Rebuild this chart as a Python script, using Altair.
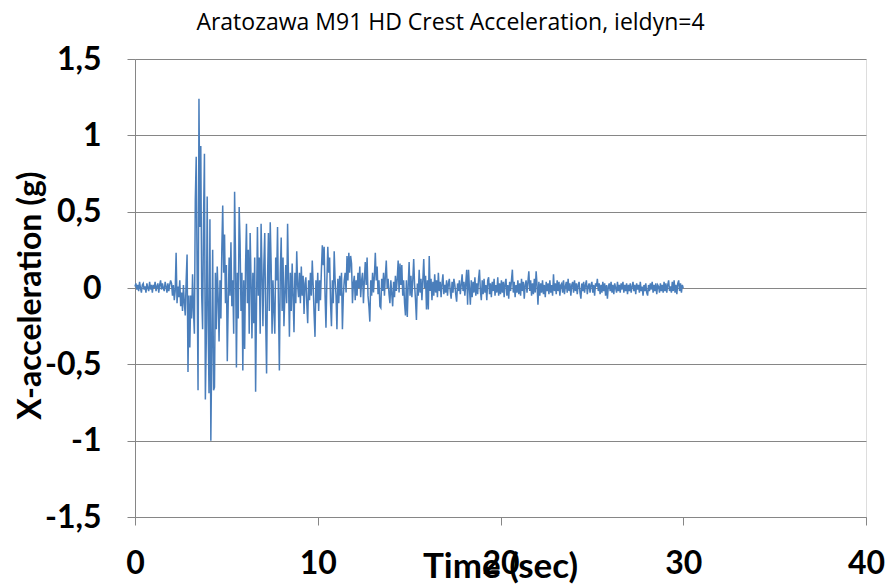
import altair as alt
import pandas as pd

# Sampling step of the record (seconds) and start time
DT = 0.05
T0 = 0.0

# X-acceleration (g), one row per second (20 samples each)
acc_00 = [0.01, 0.03, -0.01, 0.02, -0.02, 0.04, 0.00, -0.03, 0.02, 0.03, -0.01, 0.01, -0.03, 0.03, 0.00, -0.02, 0.04, -0.01, 0.02, -0.03]
acc_01 = [0.02, 0.00, 0.04, -0.02, 0.01, 0.03, -0.03, 0.02, 0.05, -0.01, 0.03, 0.00, -0.02, 0.04, 0.01, -0.03, 0.03, -0.02, 0.02, 0.05]
acc_02 = [0.03, -0.05, 0.02, -0.08, -0.02, 0.23, -0.10, 0.01, -0.06, 0.05, -0.12, -0.03, -0.15, 0.02, -0.10, -0.18, 0.05, 0.22, -0.55, -0.05]
acc_03 = [-0.39, -0.05, -0.20, 0.09, -0.15, -0.30, 0.58, 0.86, 0.10, -0.67, 1.24, 0.40, 0.93, -0.05, -0.27, 0.45, 0.88, -0.73, -0.35, 0.60]
acc_04 = [-0.20, -0.69, 0.45, -1.00, -0.40, 0.25, -0.67, -0.65, 0.10, -0.27, 0.14, -0.06, -0.35, 0.05, -0.20, 0.25, 0.54, 0.10, 0.35, -0.10]
acc_05 = [0.15, -0.48, -0.10, 0.20, -0.05, 0.30, -0.12, 0.05, -0.30, 0.63, 0.20, -0.52, 0.10, -0.20, 0.53, 0.30, -0.15, 0.10, -0.54, 0.05]
acc_06 = [-0.40, 0.15, 0.42, -0.10, 0.25, -0.30, 0.36, 0.05, -0.33, 0.10, -0.23, 0.20, -0.68, -0.10, 0.40, -0.05, 0.20, -0.30, 0.42, 0.10]
acc_07 = [-0.25, 0.15, 0.36, -0.20, -0.56, 0.05, 0.36, -0.15, 0.43, 0.15, -0.30, 0.05, -0.15, -0.30, 0.20, 0.05, 0.40, -0.10, -0.54, 0.10]
acc_08 = [0.33, -0.15, 0.20, -0.25, -0.05, 0.15, -0.10, 0.42, 0.05, -0.32, 0.10, -0.15, 0.16, -0.05, -0.29, 0.10, -0.10, 0.24, 0.02, -0.06]
acc_09 = [0.10, -0.10, 0.14, -0.05, 0.08, -0.17, 0.03, 0.07, -0.10, -0.23, 0.05, -0.08, 0.10, -0.05, 0.18, 0.02, -0.17, -0.32, 0.05, -0.10]
acc_10 = [0.10, -0.15, 0.05, -0.08, 0.12, 0.28, 0.15, 0.27, -0.05, -0.26, 0.05, 0.27, 0.10, 0.20, -0.10, -0.25, 0.05, -0.10, 0.24, 0.05]
acc_11 = [-0.05, -0.27, 0.06, -0.10, 0.08, -0.05, 0.10, -0.27, -0.05, 0.05, 0.10, -0.03, 0.21, 0.05, 0.23, 0.10, 0.21, 0.16, -0.10, 0.03]
acc_12 = [0.08, -0.08, 0.05, -0.05, 0.10, 0.00, 0.14, -0.06, 0.05, 0.10, -0.10, 0.05, 0.17, 0.02, 0.20, -0.05, -0.12, -0.22, 0.05, -0.05]
acc_13 = [0.10, -0.03, 0.08, 0.23, 0.05, 0.14, -0.04, 0.05, -0.12, -0.13, 0.06, -0.02, 0.10, -0.05, 0.08, 0.18, 0.00, 0.06, -0.04, -0.10]
acc_14 = [0.05, -0.04, -0.12, 0.04, -0.06, 0.08, -0.02, 0.06, 0.18, -0.03, 0.16, 0.02, 0.15, -0.05, 0.05, -0.10, -0.18, 0.05, -0.19, 0.02]
acc_15 = [0.17, -0.05, 0.08, -0.06, 0.05, 0.19, 0.02, -0.08, -0.21, 0.03, -0.05, 0.12, -0.03, 0.06, -0.08, 0.05, 0.19, 0.00, 0.08, -0.14]
acc_16 = [0.05, -0.14, 0.21, -0.02, 0.06, -0.08, 0.04, -0.05, 0.09, -0.03, 0.05, -0.06, 0.10, -0.02, 0.04, -0.06, 0.03, 0.09, -0.04, 0.02]
acc_17 = [-0.03, 0.05, -0.05, 0.03, 0.06, -0.02, -0.07, 0.04, -0.03, 0.06, 0.02, -0.04, -0.09, 0.03, -0.02, 0.05, -0.04, 0.02, 0.09, -0.02]
acc_18 = [0.04, -0.05, 0.03, 0.12, -0.11, 0.12, 0.00, -0.11, 0.05, -0.06, 0.04, -0.03, 0.07, -0.05, 0.03, -0.04, 0.06, 0.12, -0.02, -0.08]
acc_19 = [0.05, -0.04, 0.06, -0.03, 0.02, -0.08, 0.05, 0.07, -0.04, 0.03, -0.06, 0.04, -0.02, 0.06, -0.05, 0.02, -0.03, 0.07, -0.05, 0.03]
acc_20 = [-0.04, 0.05, -0.03, 0.04, -0.06, 0.03, 0.06, -0.05, 0.02, -0.07, 0.04, -0.02, 0.05, 0.12, -0.03, 0.04, -0.06, 0.02, -0.03, 0.05]
acc_21 = [-0.04, 0.03, -0.05, 0.06, -0.02, 0.04, -0.07, 0.02, 0.05, -0.03, 0.04, 0.11, -0.02, 0.05, -0.05, 0.03, -0.04, 0.06, -0.03, 0.11]
acc_22 = [0.02, -0.11, 0.04, -0.05, 0.03, -0.03, 0.05, -0.04, 0.02, -0.06, 0.04, -0.02, 0.03, -0.04, 0.05, -0.03, 0.02, -0.05, 0.09, -0.02]
acc_23 = [0.03, -0.04, 0.05, -0.02, 0.04, -0.05, 0.02, 0.03, -0.03, 0.05, -0.04, 0.01, 0.04, -0.03, 0.06, -0.02, 0.03, -0.05, 0.02, 0.04]
acc_24 = [-0.03, 0.05, -0.02, 0.03, -0.04, 0.02, 0.04, -0.03, -0.07, 0.03, -0.02, 0.04, -0.03, 0.02, 0.05, -0.04, 0.01, 0.03, -0.03, 0.02]
acc_25 = [0.04, -0.03, 0.02, -0.05, 0.03, 0.01, 0.06, -0.02, 0.03, -0.04, 0.02, -0.03, 0.04, -0.02, 0.03, -0.05, 0.02, -0.07, 0.01, 0.03]
acc_26 = [-0.02, 0.04, -0.03, 0.02, -0.04, 0.03, 0.00, -0.03, 0.04, -0.02, 0.02, -0.03, 0.03, -0.01, 0.04, -0.03, 0.02, -0.02, 0.03, -0.04]
acc_27 = [0.02, -0.02, 0.03, -0.03, 0.01, 0.04, -0.02, 0.02, -0.04, 0.03, -0.01, 0.02, -0.03, 0.04, -0.02, 0.01, -0.05, 0.02, -0.02, 0.03]
acc_28 = [-0.03, -0.05, 0.02, -0.02, 0.03, -0.01, 0.04, -0.03, 0.02, -0.02, 0.03, -0.04, 0.02, 0.01, -0.03, 0.03, -0.02, 0.02, -0.03, 0.04]
acc_29 = [-0.02, 0.03, -0.03, 0.02, 0.05, -0.02, 0.01, -0.03, 0.04, -0.02, 0.05, -0.03, 0.02, -0.04, 0.03, 0.05, -0.02, 0.03, -0.03, 0.02]
acc_30 = [0.00]

# Axis ticks
x_ticks = [0, 10, 20, 30, 40]
y_ticks = [-1.5, -1.0, -0.5, 0.0, 0.5, 1.0, 1.5]

title_text = "Aratozawa M91 HD Crest Acceleration, ieldyn=4"
x_title = "Time (sec)"
y_title = "X-acceleration (g)"

acc = (acc_00 + acc_01 + acc_02 + acc_03 + acc_04 + acc_05 + acc_06 + acc_07 + acc_08 + acc_09
       + acc_10 + acc_11 + acc_12 + acc_13 + acc_14 + acc_15 + acc_16 + acc_17 + acc_18 + acc_19
       + acc_20 + acc_21 + acc_22 + acc_23 + acc_24 + acc_25 + acc_26 + acc_27 + acc_28 + acc_29
       + acc_30)
df = pd.DataFrame({"t": [round(T0 + i * DT, 4) for i in range(len(acc))], "a": acc})

FONT = "Lato"
GRAY = "#868686"

chart = (
    alt.Chart(df)
    .mark_line(color="#4a7ebb", strokeWidth=1.5)
    .encode(
        x=alt.X(
            "t:Q",
            scale=alt.Scale(domain=[0, 40], nice=False, zero=False),
            axis=alt.Axis(
                values=x_ticks,
                title=x_title,
                grid=False,
                domainColor=GRAY,
                tickColor=GRAY,
                tickSize=8,
                labelFont=FONT,
                labelFontSize=32,
                labelFontWeight="bold",
                labelColor="black",
                labelPadding=23,
                labelFlush=False,
                titleFont=FONT,
                titleFontSize=35,
                titleFontWeight="bold",
                titleColor="black",
                titleX=365,
                titleY=49,
                titleBaseline="middle",
                titleAlign="center",
            ),
        ),
        y=alt.Y(
            "a:Q",
            scale=alt.Scale(domain=[-1.5, 1.5], nice=False, zero=False),
            axis=alt.Axis(
                values=y_ticks,
                title=y_title,
                grid=True,
                gridColor=GRAY,
                gridWidth=1,
                domainColor=GRAY,
                tickColor=GRAY,
                tickSize=8,
                labelExpr="replace(toString(datum.value), '.', ',')",
                labelFont=FONT,
                labelFontSize=32,
                labelFontWeight="bold",
                labelColor="black",
                labelPadding=26,
                titleFont=FONT,
                titleFontSize=32,
                titleFontWeight="bold",
                titleColor="black",
                titleAngle=-90,
                titleX=-105,
                titleY=236,
                titleBaseline="middle",
                titleAlign="center",
            ),
        ),
    )
    .properties(
        width=731,
        height=458,
        title=alt.TitleParams(
            text=title_text,
            font="Open Sans",
            fontSize=23,
            fontWeight="normal",
            color="black",
            anchor="middle",
            dx=-50,
            offset=8,
        ),
        autosize=alt.AutoSizeParams(type="none"),
        padding={"left": 135, "top": 59, "right": 20, "bottom": 67},
    )
    .configure_view(stroke=None)
    .configure(background="white")
)

chart.save("out.html", embed_options={"renderer": "svg", "actions": False})
